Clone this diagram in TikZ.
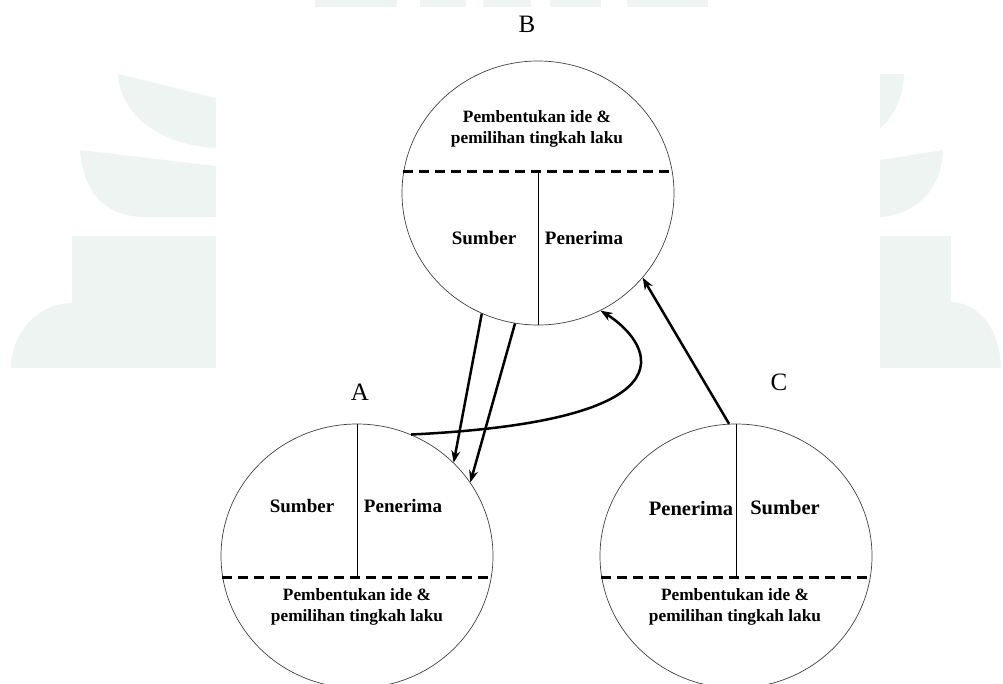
\documentclass[tikz,border=0pt]{standalone}
\usepackage{fontspec}
\setmainfont{Liberation Serif}
\usetikzlibrary{shapes.geometric,arrows.meta}
\definecolor{wmark}{RGB}{238,244,242}

\begin{document}
\begin{tikzpicture}[
  x=1pt, y=-1pt,
  party/.style={draw=black!75,line width=0.7pt,ellipse,minimum width=272pt,minimum height=264pt,inner sep=0pt},
  divider/.style={line width=2.8pt,dash pattern=on 10pt off 6pt},
  split/.style={line width=0.9pt},
  flow/.style={-{Stealth[length=12pt,width=9pt]},line width=2.5pt},
  idea/.style={font=\bfseries\fontsize{17.3}{21}\selectfont,align=center},
  role/.style={font=\bfseries\fontsize{#1}{#1}\selectfont},
  role/.default=19,
  tag/.style={font=\fontsize{25}{28}\selectfont}
]
\useasboundingbox (0,0) rectangle (1003,683);

% Watermark
\foreach \xa/\xb in {315/397,420/466,483/531,550/601,627/708}
  \fill[wmark] (\xa,0) rectangle (\xb,7);
\fill[wmark] (118,74) -- (216,98) -- (216,148) .. controls (160,145) and (120,115) .. (118,74);
\fill[wmark] (80,150) -- (216,166) -- (216,217) -- (145,217) .. controls (100,217) and (82,185) .. (80,150);
\fill[wmark] (72,236) -- (216,236) -- (216,368) -- (11,368) .. controls (11,333) and (38,303) .. (72,303) -- cycle;
\fill[wmark] (880,74) -- (904,74) .. controls (903,100) and (893,118) .. (880,128) -- cycle;
\fill[wmark] (880,160) -- (943,150) .. controls (942,190) and (915,215) .. (880,217) -- cycle;
\fill[wmark] (880,236) -- (951,236) -- (951,302) .. controls (980,303) and (1000,330) .. (1001,368) -- (880,368) -- cycle;

% Circles
\node[party] (B) at (538,193) {};
\node[party] (A) at (357,556) {};
\node[party] (C) at (736,556) {};

% Dividers
\draw[divider] (B.171) -- (B.9);
\draw[divider] (A.189) -- (A.351);
\draw[divider] (C.189) -- (C.351);
\draw[split] (B.south |- B.9) -- (B.south);
\draw[split] (A.north) -- (A.north |- A.351);
\draw[split] (C.north) -- (C.north |- C.351);

% Labels
\node[tag] (Btag) at (527,24) {B};
\node[tag] (Atag) at (360,392) {A};
\node[tag] (Ctag) at (779,382) {C};

\node[idea] (Bidea) at (537,129) {Pembentukan ide \&\\pemilihan tingkah laku};
\node[role] (Bsrc) at (484,238) {Sumber};
\node[role] (Brcv) at (584,238) {Penerima};

\node[role] (Asrc) at (302,506) {Sumber};
\node[role] (Arcv) at (403,506) {Penerima};
\node[idea] (Aidea) at (357,607) {Pembentukan ide \&\\pemilihan tingkah laku};

\node[role=20.5] (Crcv) at (691,508) {Penerima};
\node[role=20.5] (Csrc) at (785,508) {Sumber};
\node[idea] (Cidea) at (735,607) {Pembentukan ide \&\\pemilihan tingkah laku};

% Messages
\draw[flow] (B.245) -- (A.44);
\draw[flow] (B.260) -- (A.33);
\draw[flow] (A.66) .. controls (712,420) and (645,338) .. (B.298);
\draw[flow] (C.93) -- (B.321);

\end{tikzpicture}
\end{document}
